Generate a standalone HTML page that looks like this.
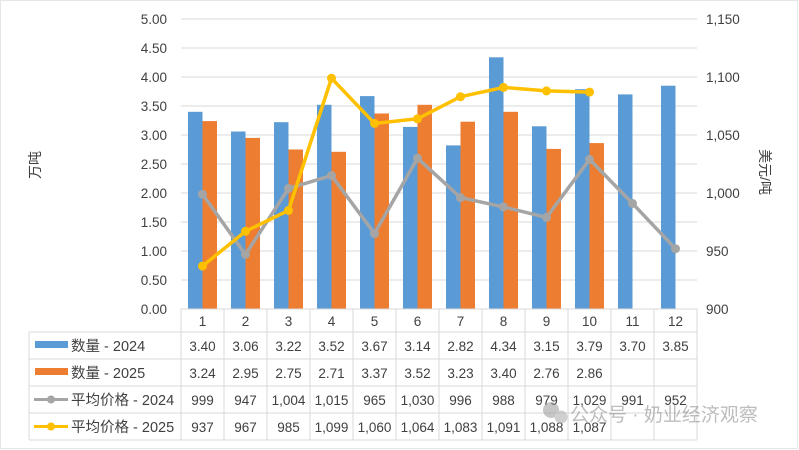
<!DOCTYPE html>
<html><head><meta charset="utf-8"><style>
body{margin:0;background:#fff}
svg{display:block;font-family:"Liberation Sans","Noto Sans CJK SC",sans-serif}
</style></head><body>
<svg width="799" height="450" viewBox="0 0 799 450" xmlns="http://www.w3.org/2000/svg">
<rect x="0" y="0" width="799" height="450" fill="#fff"/>
<rect x="0.5" y="0.5" width="797" height="448" fill="none" stroke="#e6e6e6"/>
<g stroke="#d9d9d9" stroke-width="1">
<line x1="181" x2="697" y1="19" y2="19"/><line x1="181" x2="697" y1="48" y2="48"/><line x1="181" x2="697" y1="77" y2="77"/><line x1="181" x2="697" y1="106" y2="106"/><line x1="181" x2="697" y1="135" y2="135"/><line x1="181" x2="697" y1="164" y2="164"/><line x1="181" x2="697" y1="193" y2="193"/><line x1="181" x2="697" y1="222" y2="222"/><line x1="181" x2="697" y1="251" y2="251"/><line x1="181" x2="697" y1="280" y2="280"/>
</g>
<g font-size="13.5" fill="#404040" text-anchor="end">
<text x="167" y="24">5.00</text><text x="167" y="53">4.50</text><text x="167" y="82">4.00</text><text x="167" y="111">3.50</text><text x="167" y="140">3.00</text><text x="167" y="169">2.50</text><text x="167" y="198">2.00</text><text x="167" y="227">1.50</text><text x="167" y="256">1.00</text><text x="167" y="285">0.50</text><text x="167" y="314">0.00</text>
</g>
<g font-size="13.5" fill="#404040">
<text x="706" y="24">1,150</text><text x="706" y="82">1,100</text><text x="706" y="140">1,050</text><text x="706" y="198">1,000</text><text x="706" y="256">950</text><text x="706" y="314">900</text>
</g>
<text transform="translate(40,165) rotate(-90)" font-size="14" fill="#404040" text-anchor="middle">万吨</text>
<text transform="translate(760,172) rotate(90)" font-size="14" fill="#404040" text-anchor="middle">美元/吨</text>
<g fill="#5b9bd5">
<rect x="188" y="111.8" width="14.5" height="197.2"/><rect x="231" y="131.5" width="14.5" height="177.5"/><rect x="274" y="122.2" width="14.5" height="186.8"/><rect x="317" y="104.8" width="14.5" height="204.2"/><rect x="360" y="96.1" width="14.5" height="212.9"/><rect x="403" y="126.9" width="14.5" height="182.1"/><rect x="446" y="145.4" width="14.5" height="163.6"/><rect x="489" y="57.3" width="14.5" height="251.7"/><rect x="532" y="126.3" width="14.5" height="182.7"/><rect x="575" y="89.2" width="14.5" height="219.8"/><rect x="618" y="94.4" width="14.5" height="214.6"/><rect x="661" y="85.7" width="14.5" height="223.3"/>
</g>
<g fill="#ed7d31">
<rect x="202.5" y="121.1" width="14.5" height="187.9"/><rect x="245.5" y="137.9" width="14.5" height="171.1"/><rect x="288.5" y="149.5" width="14.5" height="159.5"/><rect x="331.5" y="151.8" width="14.5" height="157.2"/><rect x="374.5" y="113.5" width="14.5" height="195.5"/><rect x="417.5" y="104.8" width="14.5" height="204.2"/><rect x="460.5" y="121.7" width="14.5" height="187.3"/><rect x="503.5" y="111.8" width="14.5" height="197.2"/><rect x="546.5" y="148.9" width="14.5" height="160.1"/><rect x="589.5" y="143.1" width="14.5" height="165.9"/>
</g>
<polyline fill="none" stroke="#a5a5a5" stroke-width="3.5" stroke-linejoin="round" points="202.5,194.2 245.5,254.5 288.5,188.4 331.5,175.6 374.5,233.6 417.5,158.2 460.5,197.6 503.5,206.9 546.5,217.4 589.5,159.4 632.5,203.4 675.5,248.7"/>
<g fill="#a5a5a5">
<circle cx="202.5" cy="194.2" r="4.5"/><circle cx="245.5" cy="254.5" r="4.5"/><circle cx="288.5" cy="188.4" r="4.5"/><circle cx="331.5" cy="175.6" r="4.5"/><circle cx="374.5" cy="233.6" r="4.5"/><circle cx="417.5" cy="158.2" r="4.5"/><circle cx="460.5" cy="197.6" r="4.5"/><circle cx="503.5" cy="206.9" r="4.5"/><circle cx="546.5" cy="217.4" r="4.5"/><circle cx="589.5" cy="159.4" r="4.5"/><circle cx="632.5" cy="203.4" r="4.5"/><circle cx="675.5" cy="248.7" r="4.5"/>
</g>
<polyline fill="none" stroke="#ffc000" stroke-width="3.5" stroke-linejoin="round" points="202.5,266.1 245.5,231.3 288.5,210.4 331.5,78.2 374.5,123.4 417.5,118.8 460.5,96.7 503.5,87.4 546.5,90.9 589.5,92.1"/>
<g fill="#ffc000">
<circle cx="202.5" cy="266.1" r="4.5"/><circle cx="245.5" cy="231.3" r="4.5"/><circle cx="288.5" cy="210.4" r="4.5"/><circle cx="331.5" cy="78.2" r="4.5"/><circle cx="374.5" cy="123.4" r="4.5"/><circle cx="417.5" cy="118.8" r="4.5"/><circle cx="460.5" cy="96.7" r="4.5"/><circle cx="503.5" cy="87.4" r="4.5"/><circle cx="546.5" cy="90.9" r="4.5"/><circle cx="589.5" cy="92.1" r="4.5"/>
</g>
<g stroke="#d9d9d9" stroke-width="1" fill="none">
<line x1="181" x2="697" y1="309" y2="309"/>
<line x1="29" x2="697" y1="332" y2="332"/><line x1="29" x2="697" y1="359" y2="359"/><line x1="29" x2="697" y1="386" y2="386"/><line x1="29" x2="697" y1="413" y2="413"/><line x1="29" x2="697" y1="440" y2="440"/>
<line x1="29" x2="29" y1="332" y2="440"/>
<line x1="181" x2="181" y1="309" y2="440"/><line x1="224" x2="224" y1="309" y2="440"/><line x1="267" x2="267" y1="309" y2="440"/><line x1="310" x2="310" y1="309" y2="440"/><line x1="353" x2="353" y1="309" y2="440"/><line x1="396" x2="396" y1="309" y2="440"/><line x1="439" x2="439" y1="309" y2="440"/><line x1="482" x2="482" y1="309" y2="440"/><line x1="525" x2="525" y1="309" y2="440"/><line x1="568" x2="568" y1="309" y2="440"/><line x1="611" x2="611" y1="309" y2="440"/><line x1="654" x2="654" y1="309" y2="440"/><line x1="697" x2="697" y1="309" y2="440"/>
</g>
<rect x="35" y="341" width="33" height="7" fill="#5b9bd5"/>
<rect x="35" y="368" width="33" height="7" fill="#ed7d31"/>
<line x1="34" x2="68" y1="399.5" y2="399.5" stroke="#a5a5a5" stroke-width="3"/><circle cx="51" cy="399.5" r="4" fill="#a5a5a5"/>
<line x1="34" x2="68" y1="426.5" y2="426.5" stroke="#ffc000" stroke-width="3"/><circle cx="51" cy="426.5" r="4" fill="#ffc000"/>
<g font-size="14.5" fill="#404040">
<text x="71" y="351">数量 - 2024</text><text x="71" y="378">数量 - 2025</text><text x="71" y="405">平均价格 - 2024</text><text x="71" y="432">平均价格 - 2025</text>
</g>
<g font-size="13.5" fill="#404040" text-anchor="middle">
<text x="202.5" y="326">1</text><text x="245.5" y="326">2</text><text x="288.5" y="326">3</text><text x="331.5" y="326">4</text><text x="374.5" y="326">5</text><text x="417.5" y="326">6</text><text x="460.5" y="326">7</text><text x="503.5" y="326">8</text><text x="546.5" y="326">9</text><text x="589.5" y="326">10</text><text x="632.5" y="326">11</text><text x="675.5" y="326">12</text>
<text x="202.5" y="351">3.40</text><text x="245.5" y="351">3.06</text><text x="288.5" y="351">3.22</text><text x="331.5" y="351">3.52</text><text x="374.5" y="351">3.67</text><text x="417.5" y="351">3.14</text><text x="460.5" y="351">2.82</text><text x="503.5" y="351">4.34</text><text x="546.5" y="351">3.15</text><text x="589.5" y="351">3.79</text><text x="632.5" y="351">3.70</text><text x="675.5" y="351">3.85</text>
<text x="202.5" y="378">3.24</text><text x="245.5" y="378">2.95</text><text x="288.5" y="378">2.75</text><text x="331.5" y="378">2.71</text><text x="374.5" y="378">3.37</text><text x="417.5" y="378">3.52</text><text x="460.5" y="378">3.23</text><text x="503.5" y="378">3.40</text><text x="546.5" y="378">2.76</text><text x="589.5" y="378">2.86</text>
<text x="202.5" y="405">999</text><text x="245.5" y="405">947</text><text x="288.5" y="405">1,004</text><text x="331.5" y="405">1,015</text><text x="374.5" y="405">965</text><text x="417.5" y="405">1,030</text><text x="460.5" y="405">996</text><text x="503.5" y="405">988</text><text x="546.5" y="405">979</text><text x="589.5" y="405">1,029</text><text x="632.5" y="405">991</text><text x="675.5" y="405">952</text>
<text x="202.5" y="432">937</text><text x="245.5" y="432">967</text><text x="288.5" y="432">985</text><text x="331.5" y="432">1,099</text><text x="374.5" y="432">1,060</text><text x="417.5" y="432">1,064</text><text x="460.5" y="432">1,083</text><text x="503.5" y="432">1,091</text><text x="546.5" y="432">1,088</text><text x="589.5" y="432">1,087</text>
</g>
<g opacity="0.55">
<circle cx="551" cy="410" r="8" fill="#999"/><circle cx="561" cy="417" r="6.5" fill="#aaa"/>
<text x="570" y="421" font-size="19" fill="#888">公众号 · 奶业经济观察</text>
</g>
</svg>
</body></html>
